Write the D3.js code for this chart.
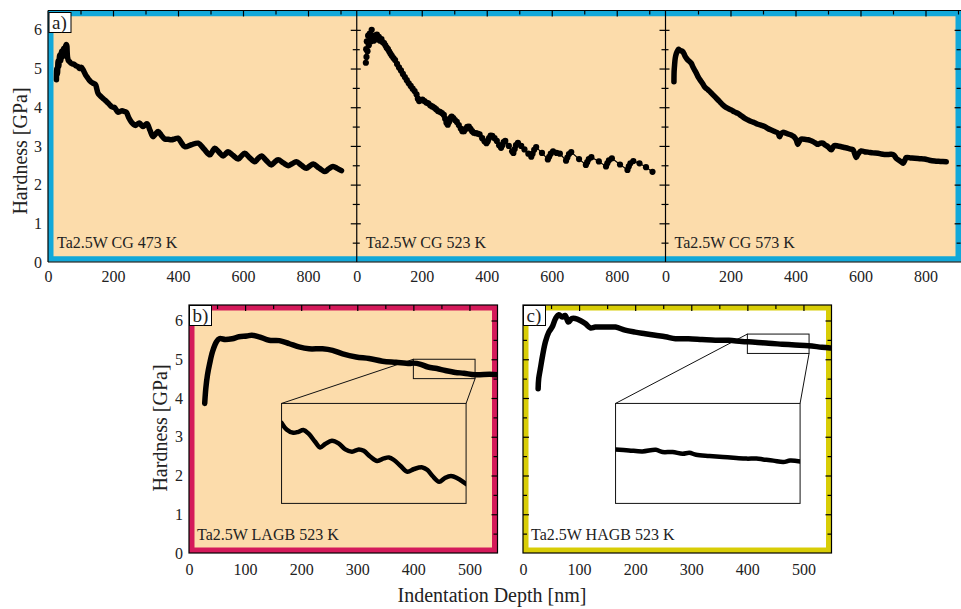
<!DOCTYPE html>
<html lang="en">
<head>
<meta charset="utf-8">
<title>Ta2.5W hardness vs indentation depth</title>
<script src="https://d3js.org/d3.v7.min.js"></script>
<style>
  body { margin: 0; background: #fff; }
  svg text { font-family: "Liberation Serif", "Times New Roman", serif; fill: #222; }
</style>
</head>
<body>
<div id="chart"></div>
<script>
// ---- data ----
// a) coarse grain, 473 K
const cg473Depth = [26,27,29,31,33,36,39,42,45,48,51,54,57,60,63,66,70,75,80,86,92,97,103,107,111,116,121,127,133,139,146,150,154,160,166,173,180,188,195,200,205,210,215,222,228,235,241,249,257,263,269,276,282,287,292,298,305,314,323,331,339,349,359,370,380,390,400,410,421,441,462,480,498,506,513,526,539,547,554,570,585,595,605,620,636,646,657,672,687,697,708,724,739,751,764,780,795,805,816,834,852,864,877,890,903];
const cg473Hard = [4.71,5.0,4.85,5.2,5.05,5.35,5.2,5.45,5.3,5.52,5.35,5.58,5.62,5.3,5.2,5.18,5.14,5.12,5.11,5.07,5.05,5.0,5.03,4.98,4.92,4.83,4.77,4.7,4.65,4.62,4.59,4.48,4.36,4.3,4.25,4.2,4.15,4.08,4.02,4.0,3.99,3.93,3.87,3.89,3.91,3.89,3.87,3.72,3.61,3.56,3.53,3.57,3.59,3.54,3.5,3.54,3.57,3.4,3.24,3.31,3.37,3.27,3.18,3.17,3.16,3.18,3.2,3.09,2.98,3.03,3.07,2.92,2.77,2.86,2.94,2.84,2.74,2.8,2.85,2.75,2.66,2.74,2.81,2.7,2.59,2.67,2.74,2.62,2.51,2.58,2.64,2.56,2.49,2.54,2.59,2.5,2.42,2.48,2.53,2.43,2.34,2.41,2.47,2.42,2.36];

// coarse grain, 523 K (scatter with connecting line)
const cg523Depth = [28,29,30,31,33,35,37,40,43,46,49,52,55,58,62,65,68,72,76,80,84,88,92,96,100,104,108,113,118,124,130,136,142,148,154,160,166,172,178,184,188,192,197,202,208,214,220,226,232,238,244,250,256,262,268,272,276,280,284,288,292,297,302,308,314,320,325,330,335,340,345,350,355,360,366,372,378,386,393,399,403,407,412,417,424,431,438,444,448,452,457,468,478,482,486,490,496,506,516,528,537,541,546,552,570,588,592,597,604,615,625,644,648,653,660,684,705,709,714,722,745,767,771,776,785,810,833,837,842,851,870,890,910];
const cg523Hard = [5.15,5.5,5.3,5.7,5.45,5.85,5.6,5.9,5.7,6.0,5.8,5.72,5.85,5.78,5.88,5.75,5.82,5.72,5.76,5.68,5.66,5.6,5.54,5.5,5.44,5.38,5.33,5.27,5.22,5.12,5.03,4.95,4.86,4.78,4.7,4.62,4.55,4.48,4.42,4.33,4.22,4.16,4.18,4.2,4.16,4.12,4.1,4.05,4.02,3.99,3.95,3.9,3.88,3.85,3.8,3.7,3.6,3.55,3.62,3.72,3.76,3.72,3.67,3.62,3.54,3.45,3.38,3.38,3.44,3.49,3.5,3.44,3.38,3.34,3.33,3.32,3.3,3.2,3.12,3.07,3.12,3.2,3.27,3.26,3.2,3.13,3.02,2.95,3.02,3.1,3.13,3.0,2.86,2.82,2.92,3.02,3.08,3.0,2.91,2.8,2.72,2.8,2.9,2.97,2.82,2.65,2.72,2.8,2.86,2.82,2.8,2.62,2.7,2.79,2.84,2.66,2.51,2.58,2.66,2.71,2.6,2.47,2.55,2.63,2.68,2.52,2.38,2.47,2.55,2.61,2.55,2.45,2.33];

// coarse grain, 573 K
const cg573Depth = [26,26.5,28,30,33,36,40,43,47,53,57,61,65,69,74,79,84,89,95,100,105,110,115,120,128,136,144,151,158,166,174,182,192,202,212,223,233,243,254,264,274,284,295,305,315,325,336,346,351,356,361,374,387,395,402,407,412,418,428,438,446,454,462,469,477,484,492,500,510,515,520,530,541,551,561,570,577,582,587,592,602,612,623,638,654,664,674,687,700,705,710,718,725,731,736,741,754,767,782,797,812,828,846,864];
const cg573Hard = [4.66,4.92,5.1,5.27,5.38,5.44,5.5,5.48,5.46,5.44,5.38,5.31,5.26,5.22,5.18,5.14,5.05,4.97,4.88,4.79,4.72,4.66,4.6,4.53,4.47,4.41,4.34,4.28,4.22,4.15,4.08,4.02,3.97,3.93,3.88,3.84,3.78,3.72,3.67,3.63,3.6,3.56,3.53,3.5,3.45,3.41,3.37,3.33,3.24,3.32,3.35,3.32,3.28,3.24,3.16,3.04,3.12,3.18,3.17,3.16,3.14,3.11,3.07,3.04,3.07,3.07,3.02,2.98,2.9,2.96,3.01,3.0,2.98,2.96,2.94,2.92,2.9,2.8,2.7,2.78,2.87,2.85,2.84,2.82,2.81,2.79,2.78,2.78,2.78,2.74,2.68,2.63,2.59,2.55,2.62,2.7,2.69,2.68,2.67,2.66,2.63,2.61,2.6,2.59];

// b) low angle grain boundary, 523 K
const lagbDepth = [28,30,33,37,42,49,54,65,77,89,103,112,125,143,161,179,196,214,238,256,274,298,321,345,369,393,400,413,426,442,457,475,490,510,536,553];
const lagbHard = [3.86,4.25,4.6,4.9,5.2,5.45,5.53,5.51,5.53,5.58,5.6,5.62,5.58,5.49,5.48,5.4,5.32,5.27,5.27,5.23,5.14,5.06,5.02,4.95,4.92,4.89,4.9,4.87,4.8,4.76,4.71,4.66,4.64,4.6,4.61,4.6];
const lagbZoomDepth = [400,403,407,410,413,416,420,423,426,430,434,438,442,446,449,453,457,461,464,467,471,475,479,484,487,490,494,497,501,505,510];
const lagbZoomHard = [4.903,4.87,4.853,4.858,4.867,4.85,4.808,4.78,4.797,4.813,4.8,4.77,4.758,4.77,4.763,4.733,4.712,4.725,4.73,4.717,4.687,4.658,4.672,4.68,4.667,4.637,4.608,4.625,4.637,4.625,4.597];

// c) high angle grain boundary, 523 K
const hagbDepth = [27,28,31,35,40,46,52,58,64,70,75,81,87,93,102,111,120,129,147,165,182,200,218,236,254,272,295,319,343,367,390,414,438,462,485,509,533,548];
const hagbHard = [4.24,4.5,4.76,5.1,5.45,5.7,5.83,6.05,6.15,6.09,6.13,5.96,6.05,6.05,6.0,5.92,5.81,5.83,5.83,5.83,5.75,5.7,5.66,5.62,5.58,5.53,5.53,5.51,5.49,5.49,5.46,5.44,5.41,5.39,5.37,5.35,5.31,5.29];
const hagbZoomDepth = [400,408,416,424,428,434,440,444,448,456,464,472,478,484,488,494,500,504,510];
const hagbZoomHard = [5.42,5.415,5.41,5.418,5.407,5.407,5.398,5.403,5.393,5.387,5.382,5.377,5.374,5.374,5.37,5.364,5.357,5.364,5.36];

// tick labels
const topDepthLabels = [0, 200, 400, 600, 800];
const botDepthLabels = [0, 100, 200, 300, 400, 500];
const hardLabels = [0, 1, 2, 3, 4, 5, 6];

// ---- drawing ----
const W = 961, H = 609;
const PEACH = "#fcdcab", BLUE = "#12a8d9", CRIMSON = "#d41a5a", YELLOW = "#d8cd06";

const svg = d3.select("#chart").append("svg")
    .attr("width", W).attr("height", H);
const defs = svg.append("defs");
let clipId = 0;

function clipRect(x0, y0, x1, y1) {
    const id = "clip" + (clipId++);
    defs.append("clipPath").attr("id", id)
        .append("rect").attr("x", x0).attr("y", y0).attr("width", x1 - x0).attr("height", y1 - y0);
    return "url(#" + id + ")";
}

function drawCurve(g, depth, hard, x, y, width) {
    const pts = d3.zip(depth, hard);
    g.append("path").datum(pts)
        .attr("fill", "none").attr("stroke", "#000")
        .attr("stroke-width", width)
        .attr("stroke-linejoin", "round").attr("stroke-linecap", "round")
        .attr("d", d3.line().x(d => x(d[0])).y(d => y(d[1])).curve(d3.curveCatmullRom.alpha(0.5)));
}

function drawDots(g, depth, hard, x, y) {
    const pts = d3.zip(depth, hard);
    g.append("path").datum(pts)
        .attr("fill", "none").attr("stroke", "#000").attr("stroke-width", 1.2)
        .attr("d", d3.line().x(d => x(d[0])).y(d => y(d[1])));
    g.selectAll(null).data(pts).enter().append("circle")
        .attr("cx", d => x(d[0])).attr("cy", d => y(d[1])).attr("r", 3.1).attr("fill", "#000");
}

// inward tick marks, no labels
function ticks(orient, scale, pos, values, size) {
    let axis;
    if (orient === "top") axis = d3.axisBottom(scale);
    else if (orient === "right") axis = d3.axisLeft(scale);
    else axis = d3.axisRight(scale);
    const g = svg.append("g")
        .attr("transform", orient === "top" ? `translate(0,${pos})` : `translate(${pos},0)`)
        .call(axis.tickValues(values).tickSize(size).tickFormat(""));
    g.select(".domain").remove();
    g.selectAll("line").attr("stroke", "#000").attr("stroke-width", 1.2);
}

function labelsBottom(scale, pos, values, pad) {
    const g = svg.append("g").attr("transform", `translate(0,${pos})`)
        .call(d3.axisBottom(scale).tickValues(values).tickFormat(d3.format("d")).tickSize(0).tickPadding(pad));
    g.select(".domain").remove();
    g.attr("font-family", null).attr("font-size", 16);
    g.selectAll("text").attr("fill", "#222");
}

function labelsLeft(scale, pos, values) {
    const g = svg.append("g").attr("transform", `translate(${pos},0)`)
        .call(d3.axisLeft(scale).tickValues(values).tickFormat(d3.format("d")).tickSize(0).tickPadding(6));
    g.select(".domain").remove();
    g.attr("font-family", null).attr("font-size", 16);
    g.selectAll("text").attr("fill", "#222");
}

function panelTag(x, y, text) {
    svg.append("rect").attr("x", x).attr("y", y).attr("width", 22).attr("height", 20)
        .attr("fill", "#fff").attr("stroke", "#000").attr("stroke-width", 1);
    svg.append("text").attr("x", x + 3).attr("y", y + 16).attr("font-size", 19).text(text);
}

// ---------- top row ----------
const yTop = d3.scaleLinear().domain([0, 6.5]).range([262, 10.5]);
const xA = d3.scaleLinear().domain([0, 950]).range([48, 356.75]);
const xB = d3.scaleLinear().domain([0, 950]).range([356.75, 665.5]);
const xC = d3.scaleLinear().domain([0, 908]).range([665.5, 960.6]);

svg.append("rect").attr("x", 48).attr("y", 10.5).attr("width", W - 48).attr("height", 251.5).attr("fill", PEACH);
svg.append("rect").attr("x", 50.75).attr("y", 13.5).attr("width", W - 48 - 5.5).attr("height", 245.5)
    .attr("fill", "none").attr("stroke", BLUE).attr("stroke-width", 5.5);

const topPanels = [
    { x: xA, depth: cg473Depth, hard: cg473Hard, label: "Ta2.5W CG 473 K", dots: false, left: false },
    { x: xB, depth: cg523Depth, hard: cg523Hard, label: "Ta2.5W CG 523 K", dots: true, left: true },
    { x: xC, depth: cg573Depth, hard: cg573Hard, label: "Ta2.5W CG 573 K", dots: false, left: true }
];

topPanels.forEach(p => {
    const [x0, x1] = p.x.range();
    const g = svg.append("g").attr("clip-path", clipRect(x0, 10.5, x1, 262));
    if (p.dots) drawDots(g, p.depth, p.hard, p.x, yTop);
    else drawCurve(g, p.depth, p.hard, p.x, yTop, 5.5);

    svg.append("text").attr("x", x0 + 9).attr("y", 248).attr("font-size", 16).text(p.label);

    const maxD = p.x.domain()[1];
    ticks("top", p.x, 10.5, d3.range(100, maxD, 100).filter(v => v % 200 === 0), 6);
    ticks("top", p.x, 10.5, d3.range(100, maxD, 100).filter(v => v % 200 !== 0), 4);
    ticks("right", yTop, x1, d3.range(1, 7, 1), 6);
    ticks("right", yTop, x1, d3.range(0.5, 6.5, 1), 4);
    if (p.left) {
        ticks("left", yTop, x0, d3.range(1, 7, 1), 4);
        ticks("left", yTop, x0, d3.range(0.5, 6.5, 1), 3);
    }
    labelsBottom(p.x, 262, topDepthLabels, 9);
});

// frame lines of the top row
const topFrame = svg.append("g").attr("stroke", "#000").attr("stroke-width", 1.2);
topFrame.append("line").attr("x1", 48).attr("x2", W).attr("y1", 10.5).attr("y2", 10.5);
topFrame.append("line").attr("x1", 48).attr("x2", W).attr("y1", 262).attr("y2", 262);
[48, 356.75, 665.5].forEach(xv => {
    topFrame.append("line").attr("x1", xv).attr("x2", xv).attr("y1", 10.5).attr("y2", 262);
});

labelsLeft(yTop, 48, hardLabels);
panelTag(49, 12.5, "a)");

svg.append("text")
    .attr("transform", "translate(27,151) rotate(-90)")
    .attr("text-anchor", "middle").attr("font-size", 20)
    .text("Hardness [GPa]");

// ---------- bottom row ----------
const yBot = d3.scaleLinear().domain([0, 6.4]).range([553, 305]);
const xL = d3.scaleLinear().domain([0, 550]).range([189, 497.5]);
const xH = d3.scaleLinear().domain([0, 550]).range([523, 831.5]);

const botPanels = [
    { x: xL, fill: PEACH, border: CRIMSON, depth: lagbDepth, hard: lagbHard,
      zDepth: lagbZoomDepth, zHard: lagbZoomHard, box: [400, 510, 4.5, 5.0],
      label: "Ta2.5W LAGB 523 K", tag: "b)", left: false },
    { x: xH, fill: "#fff", border: YELLOW, depth: hagbDepth, hard: hagbHard,
      zDepth: hagbZoomDepth, zHard: hagbZoomHard, box: [400, 510, 5.15, 5.65],
      label: "Ta2.5W HAGB 523 K", tag: "c)", left: true }
];
// inset window, in data coordinates of each panel
const insetArea = [165, 494, 1.28, 3.86];

botPanels.forEach(p => {
    const [x0, x1] = p.x.range();
    const y0 = yBot.range()[1], y1 = yBot.range()[0];
    svg.append("rect").attr("x", x0).attr("y", y0).attr("width", x1 - x0).attr("height", y1 - y0).attr("fill", p.fill);
    svg.append("rect").attr("x", x0 + 2.75).attr("y", y0 + 2.75).attr("width", x1 - x0 - 5.5).attr("height", y1 - y0 - 5.5)
        .attr("fill", "none").attr("stroke", p.border).attr("stroke-width", 5.5);

    // zoom box and connectors
    const b = p.box, ia = insetArea;
    const lines = svg.append("g").attr("stroke", "#111").attr("stroke-width", 1).attr("fill", "none");
    lines.append("rect").attr("x", p.x(b[0])).attr("y", yBot(b[3]))
        .attr("width", p.x(b[1]) - p.x(b[0])).attr("height", yBot(b[2]) - yBot(b[3]));
    lines.append("line").attr("x1", p.x(b[0])).attr("y1", yBot(b[3])).attr("x2", p.x(ia[0])).attr("y2", yBot(ia[3]));
    lines.append("line").attr("x1", p.x(b[1])).attr("y1", yBot(b[2])).attr("x2", p.x(ia[1])).attr("y2", yBot(ia[3]));
    lines.append("rect").attr("x", p.x(ia[0])).attr("y", yBot(ia[3]))
        .attr("width", p.x(ia[1]) - p.x(ia[0])).attr("height", yBot(ia[2]) - yBot(ia[3]))
        .attr("fill", p.fill);

    const g = svg.append("g").attr("clip-path", clipRect(x0, y0, x1, y1));
    drawCurve(g, p.depth, p.hard, p.x, yBot, 5.5);

    // inset curve
    const xi = d3.scaleLinear().domain([b[0], b[1]]).range([p.x(ia[0]), p.x(ia[1])]);
    const yi = d3.scaleLinear().domain([b[2], b[3]]).range([yBot(ia[2]), yBot(ia[3])]);
    const gi = svg.append("g").attr("clip-path", clipRect(xi.range()[0], yi.range()[1], xi.range()[1], yi.range()[0]));
    drawCurve(gi, p.zDepth, p.zHard, xi, yi, 4.5);

    svg.append("text").attr("x", x0 + 8).attr("y", 540).attr("font-size", 16).text(p.label);

    ticks("top", p.x, y0, [100, 200, 300, 400, 500], 6);
    ticks("top", p.x, y0, [50, 150, 250, 350, 450], 4);
    ticks("right", yBot, x1, d3.range(1, 7, 1), 6);
    ticks("right", yBot, x1, d3.range(0.5, 6.5, 1), 4);
    if (p.left) {
        ticks("left", yBot, x0, d3.range(1, 7, 1), 6);
        ticks("left", yBot, x0, d3.range(0.5, 6.5, 1), 4);
    }
    svg.append("rect").attr("x", x0).attr("y", y0).attr("width", x1 - x0).attr("height", y1 - y0)
        .attr("fill", "none").attr("stroke", "#000").attr("stroke-width", 1.2);

    labelsBottom(p.x, 553, botDepthLabels, 11);
    panelTag(x0 + 0.5, y0 + 0.5, p.tag);
});

labelsLeft(yBot, 189, hardLabels);

svg.append("text")
    .attr("transform", "translate(167,428) rotate(-90)")
    .attr("text-anchor", "middle").attr("font-size", 20)
    .text("Hardness [GPa]");

svg.append("text")
    .attr("x", 492).attr("y", 602)
    .attr("text-anchor", "middle").attr("font-size", 20)
    .text("Indentation Depth [nm]");
</script>
</body>
</html>
